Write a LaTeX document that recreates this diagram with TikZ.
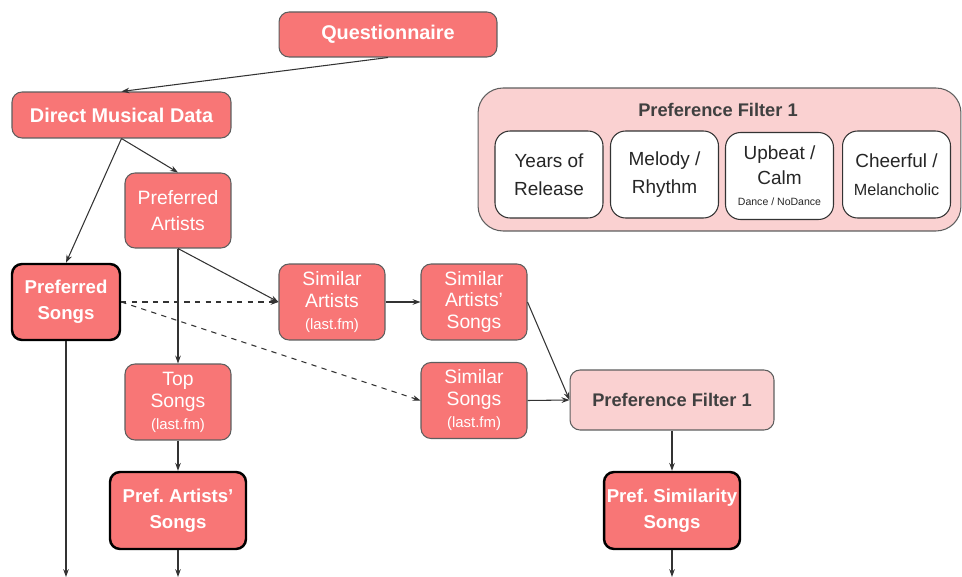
\documentclass[tikz,border=0pt]{standalone}
\usepackage{fontspec}
\setmainfont{Liberation Sans}
\usetikzlibrary{arrows.meta}

\definecolor{boxred}{HTML}{F87676}
\definecolor{boxpink}{HTML}{FAD1D1}
\definecolor{boxline}{HTML}{5E5E5E}
\definecolor{wireline}{HTML}{333333}

\frenchspacing

\begin{document}
\begin{tikzpicture}[
            x = 0.02cm, y = -0.02cm, % pixel grid, y pointing down
            > = {Stealth[length=4.5pt,width=3.2pt]}, % arrow head style
            wire/.style = {draw=wireline, line width=0.6pt},
            redbox/.style = {draw=boxline, line width=0.6pt, fill=boxred, text=white,
                rounded corners=0.2cm, align=center, inner sep=1pt,
                minimum width=2.12cm, minimum height=1.52cm,
                font=\fontsize{11}{12.5}\selectfont},
            keybox/.style = {redbox, draw=black, line width=1.4pt,
                font=\fontsize{10.6}{15}\selectfont\bfseries},
            headbox/.style = {redbox, minimum height=0.9cm,
                font=\fontsize{11.3}{13}\selectfont\bfseries},
            pinkbox/.style = {draw=boxline, line width=0.6pt, fill=boxpink, text=black!75,
                rounded corners=0.25cm, align=center,
                font=\fontsize{10.4}{12}\selectfont\bfseries},
            factorbox/.style = {draw=black!80, line width=0.6pt, fill=white, text=black!85,
                rounded corners=0.3cm, align=center, inner sep=1pt,
                minimum width=2.16cm, minimum height=1.74cm,
                font=\fontsize{10.8}{16}\selectfont}
        ]
	\useasboundingbox (0,0) rectangle (962,577);

	% sources
	\node[headbox, minimum width=4.36cm] (quest) at (388,34.5) {Questionnaire};
	\node[headbox, minimum width=4.38cm, minimum height=0.92cm] (direct) at (121.5,115) {Direct Musical Data};
	\node[redbox, minimum height=1.5cm, font=\fontsize{11}{15}\selectfont] (prefart) at (178,210.5) {Preferred\\Artists};
	\node[keybox, minimum width=2.16cm] (prefsongs) at (66,302) {Preferred\\Songs};

	% last.fm lookups
	\node[redbox] (simart) at (332,302) {Similar\\Artists\\{\fontsize{8.5}{10}\selectfont(last.fm)}};
	\node[redbox] (simartsongs) at (474,302) {Similar\\Artists'\\Songs};
	\node[redbox] (topsongs) at (178,402) {Top\\Songs\\{\fontsize{8.5}{10}\selectfont(last.fm)}};
	\node[redbox] (simsongs) at (474,400.5) {Similar\\Songs\\{\fontsize{8.5}{10}\selectfont(last.fm)}};

	% filter and results
	\node[pinkbox, minimum width=4.08cm, minimum height=1.2cm, rounded corners=0.2cm] (filter) at (672,400) {Preference Filter 1};
	\node[keybox, minimum width=2.72cm, minimum height=1.54cm] (prefartsongs) at (178,510.5) {Pref. Artists'\\Songs};
	\node[keybox, minimum width=2.72cm, minimum height=1.54cm] (prefsimsongs) at (672,510.5) {Pref. Similarity\\Songs};

	% outgoing ends
	\coordinate (out1) at (66,577);
	\coordinate (out2) at (178,577);
	\coordinate (out3) at (672,577);

	% filter legend
	\node[pinkbox, minimum width=9.66cm, minimum height=2.86cm, rounded corners=0.5cm] (frame) at (719.5,159.5) {};
	\node[text=black!75, font=\fontsize{10.4}{12}\selectfont\bfseries] (frametitle) at (718,110) {Preference Filter 1};
	\node[factorbox] (years) at (549,174.5) {Years of\\Release};
	\node[factorbox] (melody) at (664.5,174.5) {Melody /\\Rhythm};
	\node[factorbox, font=\fontsize{10.8}{14}\selectfont] (upbeat) at (779.5,176) {Upbeat /\\Calm\\[-2pt]{\fontsize{6}{7}\selectfont Dance / NoDance}};
	\node[factorbox] (cheer) at (896.5,174.5) {Cheerful /\\{\fontsize{9.2}{11}\selectfont Melancholic}};

	\draw[wire,->] (quest.south) -- (direct.north);
	\draw[wire,->] (direct.south) -- (prefart.north);
	\draw[wire,->] (direct.south) -- (prefsongs.north);
	\draw[wire,->] (prefart.south) -- (topsongs.north);
	\draw[wire,->] (prefart.south) -- (simart.west);
	\draw[wire,->,dashed] (prefsongs.east) -- (simart.west);
	\draw[wire,->,dashed] (prefsongs.east) -- (simsongs.west);
	\draw[wire,->] (simart.east) -- (simartsongs.west);
	\draw[wire,->] (simartsongs.east) -- (filter.west);
	\draw[wire,->] (simsongs.east) -- (filter.west);
	\draw[wire,->] (filter.south) -- (prefsimsongs.north);
	\draw[wire,->] (topsongs.south) -- (prefartsongs.north);
	\draw[wire,->] (prefsongs.south) -- (out1);
	\draw[wire,->] (prefartsongs.south) -- (out2);
	\draw[wire,->] (prefsimsongs.south) -- (out3);

\end{tikzpicture}
\end{document}
